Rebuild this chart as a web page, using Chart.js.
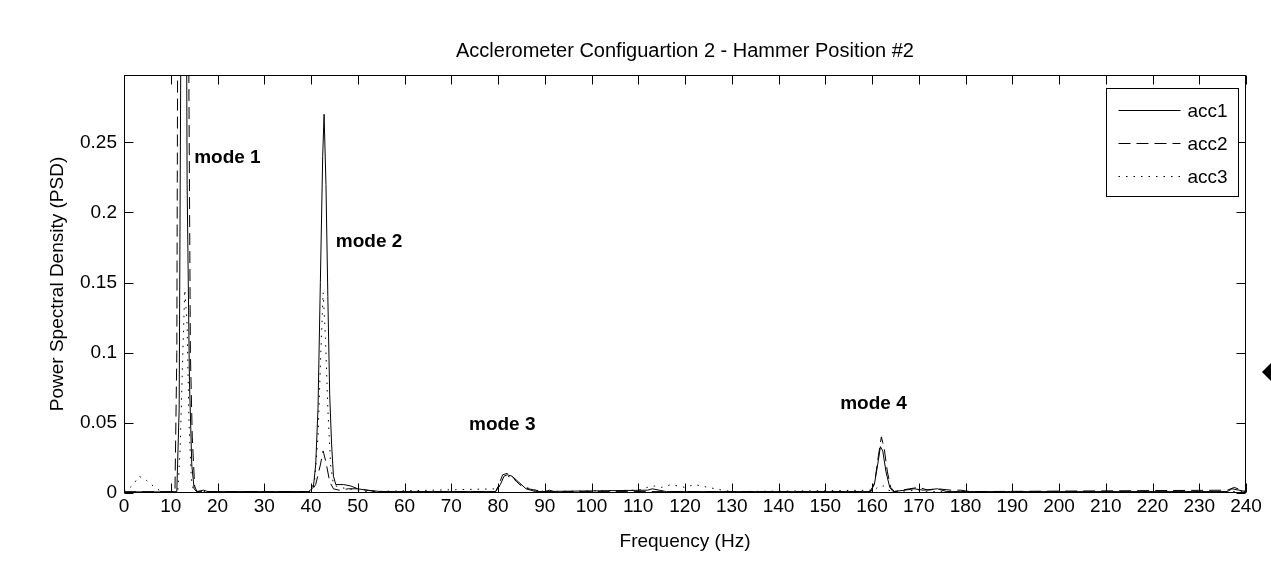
<!DOCTYPE html>
<html><head><meta charset="utf-8">
<script src="https://cdn.jsdelivr.net/npm/chart.js@4/dist/chart.umd.min.js"></script>
<style>html,body{margin:0;padding:0;background:#fff;overflow:hidden}#wrap{width:1271px;height:563px;position:relative}</style>
</head><body><div id="wrap"><canvas id="c" width="1271" height="563"></canvas></div>
<script>
const titleText = 'Acclerometer Configuartion 2 - Hammer Position #2';
const xAxisTitle = 'Frequency (Hz)';
const yAxisTitle = 'Power Spectral Density (PSD)';
const seriesNames = ['acc1', 'acc2', 'acc3'];
const xTicks = [0,10,20,30,40,50,60,70,80,90,100,110,120,130,140,150,160,170,180,190,200,210,220,230,240];
const yTicks = [0, 0.05, 0.1, 0.15, 0.2, 0.25];

const acc1Freq = [0,10,11.3,11.8,12.2,12.7,13.1,13.5,14,14.5,15,15.5,17,18,39.5,40.5,41,41.5,42,42.5,42.8,43.2,43.6,44,44.4,44.8,45.3,47,48.5,50,52,55,79.5,80.5,81.3,82,83,84,85,86,87,88,112,113,114.5,116,159.5,160.5,161.2,161.8,162.3,163,163.8,164.5,167,169,171,174,176,236,237,238.5,240];
const acc1Psd  = [0.0008,0.0008,0.001,0.06,0.35,0.9,0.6,0.22,0.08,0.02,0.003,0.001,0.002,0.001,0.001,0.004,0.02,0.06,0.15,0.24,0.27,0.22,0.14,0.07,0.035,0.012,0.006,0.006,0.005,0.003,0.002,0.001,0.001,0.006,0.012,0.013,0.012,0.009,0.006,0.003,0.002,0.001,0.002,0.003,0.002,0.001,0.001,0.006,0.02,0.033,0.03,0.015,0.004,0.001,0.002,0.003,0.002,0.003,0.001,0.001,0.003,0.002,0.001];

const acc2Freq = [0,10.9,11.3,11.5,12.1,12.8,13.6,13.9,14.2,14.6,15.1,15.6,40,41,42,42.6,43.2,44,44.8,46,48,50,52,54,79.5,80.3,81,82,83,84,85,86.5,88,90,91,92,159.8,160.6,161.3,162,162.6,163.3,164,164.8,168,170,172,174,177,179,181,236,237.5,239,240];
const acc2Psd  = [0.0008,0.001,0.1,0.35,0.7,0.8,0.5,0.28,0.1,0.04,0.005,0.001,0.001,0.006,0.02,0.03,0.022,0.008,0.003,0.002,0.003,0.003,0.002,0.001,0.001,0.007,0.013,0.014,0.012,0.008,0.005,0.003,0.002,0.001,0.002,0.001,0.001,0.008,0.025,0.04,0.032,0.015,0.004,0.001,0.003,0.004,0.002,0.003,0.002,0.002,0.001,0.002,0.004,0.002,0.001];

const acc3Freq = [0,1,2,3.2,4.8,6.6,8,11.5,12,12.5,13,13.5,13.9,14.4,14.9,40,40.8,41.5,42.1,42.6,43.1,43.6,44.2,44.8,46,48,50,52,80,81,82,83,84,86,88,90,110,112,113.5,115,117,120,122,125,128,130,160.5,161.5,162.5,163.5,165,170,172,240];
const acc3Psd  = [0.001,0.003,0.006,0.012,0.009,0.004,0.001,0.001,0.03,0.09,0.145,0.12,0.05,0.01,0.001,0.001,0.01,0.04,0.1,0.143,0.11,0.06,0.02,0.006,0.004,0.003,0.002,0.001,0.003,0.01,0.012,0.011,0.008,0.004,0.002,0.001,0.002,0.004,0.005,0.004,0.006,0.004,0.006,0.004,0.002,0.001,0.002,0.005,0.005,0.002,0.001,0.002,0.001,0.001];

const modeLabels = ['mode 1', 'mode 2', 'mode 3', 'mode 4'];
const modeFreq = [15.0, 45.3, 73.8, 153.2];
const modePsd = [0.239, 0.179, 0.0486, 0.0636];

const FONT = '"Liberation Sans", Arial, sans-serif';
const FS = 19;
Chart.defaults.font.family = FONT;
Chart.defaults.color = '#000';

function pts(f, v) { return f.map((x, i) => ({ x: x, y: v[i] })); }
const dashes = [[], [12, 6], [1.5, 6]];

const framePlugin = {
  id: 'frame',
  afterDatasetsDraw(chart) {
    const { ctx, chartArea: a, scales: { x, y } } = chart;
    ctx.save();
    ctx.strokeStyle = '#000';
    ctx.lineWidth = 1;
    const L = Math.round(a.left) + 0.5, R = Math.round(a.right) - 0.5, T = Math.round(a.top) + 0.5, B = Math.round(a.bottom) - 0.5;
    ctx.strokeRect(L, T, R - L, B - T);
    const tl = 9;
    ctx.beginPath();
    xTicks.forEach(v => {
      const p = Math.round(x.getPixelForValue(v)) + 0.5;
      ctx.moveTo(p, B); ctx.lineTo(p, B - tl);
      ctx.moveTo(p, T); ctx.lineTo(p, T + tl);
    });
    yTicks.forEach(v => {
      const p = Math.round(y.getPixelForValue(v)) + 0.5;
      ctx.moveTo(L, p); ctx.lineTo(L + tl, p);
      ctx.moveTo(R, p); ctx.lineTo(R - tl, p);
    });
    ctx.stroke();

    // mode annotations
    ctx.fillStyle = '#000';
    ctx.font = 'bold ' + FS + 'px ' + FONT;
    ctx.textAlign = 'left';
    ctx.textBaseline = 'middle';
    modeLabels.forEach((t, i) => {
      ctx.fillText(t, x.getPixelForValue(modeFreq[i]), y.getPixelForValue(modePsd[i]));
    });

    // legend
    const bw = 132, bh = 108;
    const bx = Math.round(a.right - 8 - bw) + 0.5, by = Math.round(a.top + 13) + 0.5;
    ctx.fillStyle = '#fff';
    ctx.fillRect(bx, by, bw, bh);
    ctx.strokeRect(bx, by, bw, bh);
    ctx.font = FS + 'px ' + FONT;
    chart.data.datasets.forEach((ds, i) => {
      const ry = Math.round(by + 21 + i * 33) + 0.5;
      ctx.beginPath();
      ctx.setLineDash(ds.borderDash || []);
      ctx.moveTo(bx + 12, ry); ctx.lineTo(bx + 74, ry);
      ctx.stroke();
      ctx.setLineDash([]);
      ctx.fillStyle = '#000';
      ctx.fillText(ds.label, bx + 81, ry + 1);
    });

    // cropped marker artifact at right edge
    ctx.beginPath();
    ctx.moveTo(1262, 372); ctx.lineTo(1271, 363); ctx.lineTo(1280, 372); ctx.lineTo(1271, 381); ctx.closePath();
    ctx.fillStyle = '#000';
    ctx.fill();
    ctx.restore();
  }
};

new Chart(document.getElementById('c'), {
  type: 'line',
  data: {
    datasets: [
      { label: seriesNames[0], data: pts(acc1Freq, acc1Psd) },
      { label: seriesNames[1], data: pts(acc2Freq, acc2Psd) },
      { label: seriesNames[2], data: pts(acc3Freq, acc3Psd) }
    ].map((d, i) => Object.assign(d, { borderColor: '#000', borderWidth: 1, borderDash: dashes[i], pointRadius: 0, tension: 0, fill: false }))
  },
  options: {
    responsive: false,
    devicePixelRatio: 1,
    animation: false,
    events: [],
    layout: { padding: { left: 0, right: 25, top: 0, bottom: 0 } },
    plugins: {
      legend: { display: false },
      tooltip: { enabled: false },
      title: {
        display: true, text: titleText, fullSize: false, color: '#000',
        font: { size: 20, weight: 'normal', family: FONT },
        padding: { top: 39, bottom: 12 }
      }
    },
    scales: {
      x: {
        type: 'linear', min: 0, max: 240,
        afterBuildTicks: s => { s.ticks = xTicks.map(v => ({ value: v })); },
        afterFit: s => { s.height = 70; },
        grid: { display: false, drawTicks: false },
        border: { display: false },
        ticks: { font: { size: FS }, color: '#000', padding: 2, maxRotation: 0, autoSkip: false },
        title: { display: true, text: xAxisTitle, color: '#000', font: { size: FS }, padding: { top: 0, bottom: 10 } }
      },
      y: {
        type: 'linear', min: 0, max: 0.298,
        afterBuildTicks: s => { s.ticks = yTicks.map(v => ({ value: v })); },
        afterFit: s => { s.width = 124; },
        grid: { display: false, drawTicks: false },
        border: { display: false },
        ticks: { font: { size: FS }, color: '#000', padding: 7, callback: v => String(+v.toFixed(2)) },
        title: { display: true, text: yAxisTitle, color: '#000', font: { size: FS }, padding: { top: 46, bottom: 0 } }
      }
    }
  },
  plugins: [framePlugin]
});
</script></body></html>
